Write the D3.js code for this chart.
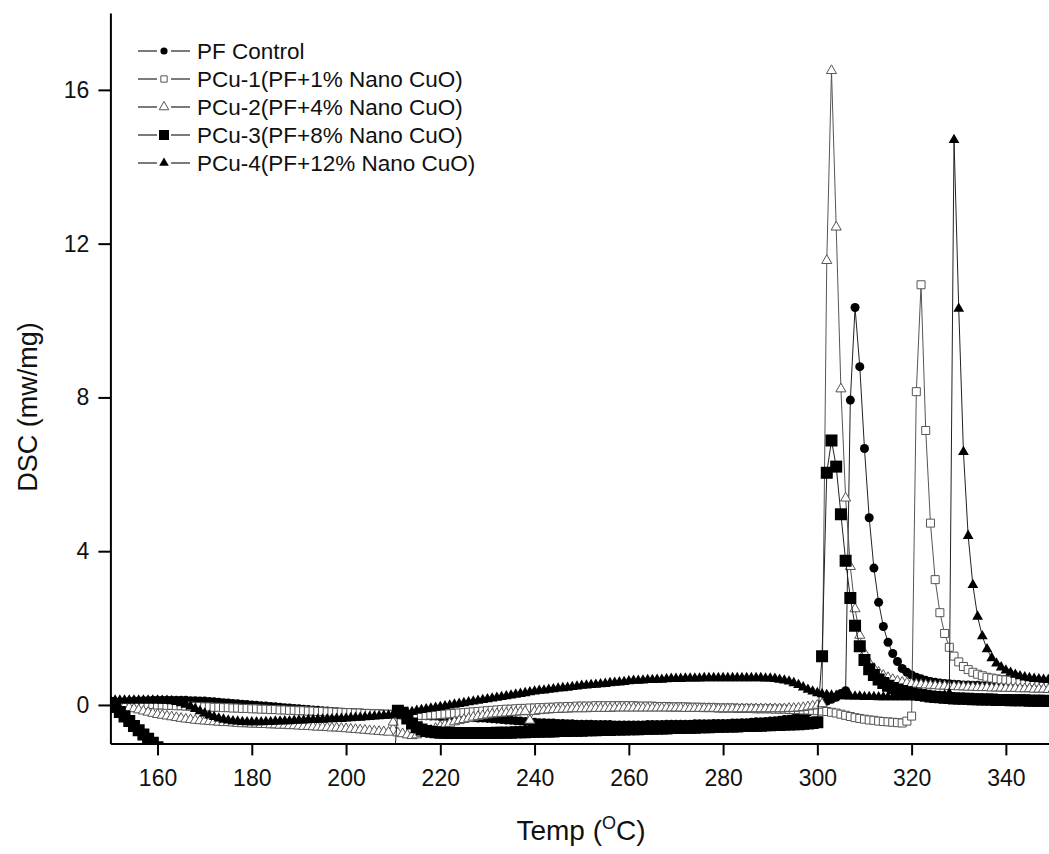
<!DOCTYPE html>
<html><head><meta charset="utf-8">
<script src="https://cdn.jsdelivr.net/npm/d3@7"></script>
<style>body{margin:0;background:#fff}svg{display:block}</style>
</head><body><svg id="chart" width="1049" height="854"></svg>
<script>
// Temperature grid (°C)
const temps = [150,151,152,153,154,155,156,157,158,159,160,161,162,163,164,165,166,167,168,169,
170,171,172,173,174,175,176,177,178,179,180,181,182,183,184,185,186,187,188,189,
190,191,192,193,194,195,196,197,198,199,200,201,202,203,204,205,206,207,208,209,
210,211,212,213,214,215,216,217,218,219,220,221,222,223,224,225,226,227,228,229,
230,231,232,233,234,235,236,237,238,239,240,241,242,243,244,245,246,247,248,249,
250,251,252,253,254,255,256,257,258,259,260,261,262,263,264,265,266,267,268,269,
270,271,272,273,274,275,276,277,278,279,280,281,282,283,284,285,286,287,288,289,
290,291,292,293,294,295,296,297,298,299,300,301,302,303,304,305,306,307,308,309,
310,311,312,313,314,315,316,317,318,319,320,321,322,323,324,325,326,327,328,329,
330,331,332,333,334,335,336,337,338,339,340,341,342,343,344,345,346,347,348,349,350];

const pfControl = [
0.05,0.06,0.07,0.08,0.09,0.10,0.10,0.11,0.11,0.12,
0.12,0.12,0.12,0.12,0.12,0.12,0.12,0.11,0.11,0.10,
0.10,0.09,0.08,0.07,0.06,0.05,0.04,0.03,0.02,0.01,
0.00,-0.01,-0.02,-0.03,-0.04,-0.05,-0.06,-0.07,-0.08,-0.09,
-0.10,-0.11,-0.12,-0.13,-0.14,-0.15,-0.16,-0.17,-0.18,-0.19,
-0.20,-0.20,-0.21,-0.21,-0.22,-0.22,-0.23,-0.23,-0.24,-0.24,
-0.25,-0.25,-0.26,-0.26,-0.27,-0.27,-0.28,-0.28,-0.29,-0.29,
-0.30,-0.30,-0.31,-0.31,-0.32,-0.32,-0.33,-0.33,-0.34,-0.34,
-0.35,-0.36,-0.37,-0.38,-0.39,-0.40,-0.41,-0.42,-0.43,-0.44,
-0.45,-0.46,-0.46,-0.47,-0.47,-0.48,-0.48,-0.49,-0.49,-0.50,
-0.50,-0.50,-0.50,-0.51,-0.51,-0.51,-0.51,-0.52,-0.52,-0.52,
-0.52,-0.52,-0.52,-0.52,-0.51,-0.51,-0.51,-0.51,-0.50,-0.50,
-0.50,-0.50,-0.50,-0.50,-0.49,-0.49,-0.49,-0.49,-0.48,-0.48,
-0.48,-0.48,-0.47,-0.47,-0.46,-0.46,-0.45,-0.44,-0.44,-0.43,
-0.42,-0.41,-0.40,-0.38,-0.37,-0.35,-0.32,-0.28,-0.20,-0.12,
-0.05,0.02,0.10,0.15,0.20,0.30,0.37,7.93,10.34,8.80,
6.67,4.87,3.56,2.67,2.04,1.63,1.34,1.13,0.95,0.85,
0.78,0.72,0.68,0.64,0.61,0.59,0.57,0.56,0.55,0.54,
0.53,0.52,0.52,0.51,0.51,0.50,0.50,0.49,0.49,0.48,
0.48,0.47,0.47,0.47,0.46,0.46,0.46,0.45,0.45,0.45,0.45];

const pcu1 = [
0.05,0.05,0.04,0.04,0.03,0.03,0.02,0.02,0.01,0.01,
0.00,0.00,-0.01,-0.01,-0.02,-0.02,-0.03,-0.03,-0.04,-0.04,
-0.05,-0.05,-0.06,-0.06,-0.07,-0.07,-0.08,-0.08,-0.09,-0.09,
-0.10,-0.10,-0.11,-0.11,-0.12,-0.12,-0.13,-0.13,-0.14,-0.14,
-0.15,-0.15,-0.16,-0.16,-0.17,-0.17,-0.18,-0.18,-0.19,-0.19,
-0.20,-0.20,-0.21,-0.21,-0.22,-0.22,-0.23,-0.23,-0.24,-0.24,
-0.25,-0.25,-0.26,-0.26,-0.26,-0.27,-0.27,-0.27,-0.26,-0.26,
-0.25,-0.24,-0.23,-0.22,-0.21,-0.20,-0.19,-0.18,-0.17,-0.16,
-0.15,-0.14,-0.13,-0.12,-0.11,-0.11,-0.10,-0.09,-0.09,-0.08,
-0.08,-0.07,-0.07,-0.06,-0.06,-0.05,-0.05,-0.04,-0.04,-0.03,
-0.03,-0.03,-0.03,-0.02,-0.02,-0.02,-0.02,-0.02,-0.02,-0.02,
-0.02,-0.02,-0.03,-0.03,-0.03,-0.03,-0.04,-0.04,-0.04,-0.05,
-0.05,-0.05,-0.05,-0.06,-0.06,-0.06,-0.07,-0.07,-0.07,-0.08,
-0.08,-0.08,-0.08,-0.09,-0.09,-0.09,-0.09,-0.10,-0.10,-0.10,
-0.10,-0.11,-0.11,-0.11,-0.12,-0.12,-0.12,-0.13,-0.13,-0.14,
-0.15,-0.16,-0.17,-0.19,-0.21,-0.24,-0.27,-0.30,-0.33,-0.35,
-0.37,-0.39,-0.40,-0.42,-0.43,-0.44,-0.45,-0.46,-0.47,-0.42,
-0.29,8.15,10.93,7.14,4.73,3.26,2.40,1.86,1.50,1.27,
1.12,1.00,0.92,0.85,0.80,0.76,0.72,0.70,0.68,0.66,
0.65,0.64,0.63,0.62,0.61,0.60,0.60,0.59,0.59,0.58,0.58];

const pcu2 = [
0.05,0.03,0.00,-0.03,-0.07,-0.10,-0.13,-0.16,-0.19,-0.22,
-0.25,-0.27,-0.29,-0.31,-0.33,-0.35,-0.37,-0.38,-0.40,-0.41,
-0.42,-0.43,-0.44,-0.45,-0.46,-0.46,-0.47,-0.48,-0.49,-0.49,
-0.50,-0.50,-0.51,-0.51,-0.52,-0.52,-0.53,-0.53,-0.54,-0.54,
-0.55,-0.56,-0.56,-0.57,-0.58,-0.58,-0.59,-0.60,-0.60,-0.61,
-0.62,-0.63,-0.64,-0.65,-0.66,-0.67,-0.68,-0.69,-0.70,-0.71,
-0.45,-0.73,-0.75,-0.78,-0.80,-0.78,-0.74,-0.70,-0.66,-0.61,
-0.56,-0.52,-0.48,-0.44,-0.41,-0.38,-0.35,-0.32,-0.30,-0.28,
-0.26,-0.24,-0.23,-0.22,-0.21,-0.20,-0.19,-0.18,-0.17,-0.40,
-0.17,-0.15,-0.14,-0.13,-0.12,-0.12,-0.11,-0.11,-0.10,-0.10,
-0.10,-0.10,-0.09,-0.09,-0.09,-0.09,-0.09,-0.08,-0.08,-0.08,
-0.08,-0.08,-0.08,-0.08,-0.08,-0.08,-0.08,-0.08,-0.08,-0.08,
-0.08,-0.08,-0.09,-0.09,-0.09,-0.09,-0.09,-0.09,-0.09,-0.10,
-0.10,-0.10,-0.10,-0.10,-0.10,-0.10,-0.10,-0.10,-0.10,-0.10,
-0.10,-0.10,-0.10,-0.10,-0.09,-0.09,-0.08,-0.07,-0.05,-0.03,
-0.01,0.03,11.56,16.50,12.43,8.22,5.38,3.60,2.50,1.81,
1.35,1.10,0.95,0.85,0.77,0.71,0.66,0.62,0.59,0.57,
0.55,0.54,0.53,0.52,0.51,0.50,0.49,0.49,0.48,0.48,
0.47,0.47,0.46,0.46,0.45,0.45,0.45,0.44,0.44,0.44,
0.43,0.43,0.43,0.42,0.42,0.42,0.41,0.41,0.41,0.40,0.40];

// null = below the plotted range (off chart)
const pcu3 = [
0.05,-0.05,-0.18,-0.30,-0.42,-0.55,-0.66,-0.77,-0.88,-0.98,
-1.10,-1.25,-1.45,null,null,null,null,null,null,null,
null,null,null,null,null,null,null,null,null,null,
null,null,null,null,null,null,null,null,null,null,
null,null,null,null,null,null,null,null,null,null,
null,null,null,null,null,null,null,null,null,null,
-1.80,-0.15,-0.20,-0.35,-0.48,-0.58,-0.64,-0.68,-0.70,-0.71,
-0.72,-0.72,-0.73,-0.73,-0.73,-0.73,-0.73,-0.73,-0.73,-0.73,
-0.73,-0.73,-0.72,-0.72,-0.72,-0.72,-0.71,-0.71,-0.71,-0.70,
-0.70,-0.70,-0.69,-0.69,-0.69,-0.68,-0.68,-0.68,-0.67,-0.67,
-0.67,-0.66,-0.66,-0.66,-0.65,-0.65,-0.65,-0.64,-0.64,-0.64,
-0.63,-0.63,-0.63,-0.62,-0.62,-0.62,-0.61,-0.61,-0.61,-0.60,
-0.60,-0.60,-0.59,-0.59,-0.59,-0.58,-0.58,-0.58,-0.57,-0.57,
-0.57,-0.56,-0.56,-0.56,-0.55,-0.55,-0.55,-0.54,-0.54,-0.53,
-0.53,-0.52,-0.52,-0.51,-0.51,-0.50,-0.50,-0.49,-0.48,-0.47,
-0.45,1.27,6.04,6.88,6.20,4.96,3.75,2.78,2.06,1.53,
1.17,0.93,0.78,0.66,0.57,0.50,0.44,0.40,0.36,0.33,
0.30,0.28,0.26,0.24,0.22,0.21,0.20,0.19,0.18,0.17,
0.17,0.16,0.16,0.15,0.15,0.14,0.14,0.14,0.13,0.13,
0.13,0.12,0.12,0.12,0.12,0.11,0.11,0.11,0.11,0.10,0.10];

const pcu4 = [
0.12,0.12,0.12,0.12,0.12,0.12,0.12,0.12,0.12,0.12,
0.12,0.11,0.11,0.10,0.08,0.05,0.01,-0.04,-0.10,-0.16,
-0.22,-0.27,-0.31,-0.35,-0.38,-0.40,-0.42,-0.43,-0.44,-0.45,
-0.45,-0.45,-0.45,-0.44,-0.44,-0.43,-0.43,-0.42,-0.42,-0.41,
-0.40,-0.40,-0.39,-0.39,-0.38,-0.38,-0.37,-0.37,-0.36,-0.36,
-0.35,-0.34,-0.33,-0.33,-0.32,-0.31,-0.30,-0.29,-0.28,-0.27,
-0.25,-0.24,-0.22,-0.20,-0.18,-0.15,-0.13,-0.11,-0.09,-0.07,
-0.05,-0.03,-0.01,0.01,0.03,0.05,0.07,0.09,0.11,0.13,
0.15,0.17,0.19,0.21,0.23,0.25,0.27,0.29,0.31,0.33,
0.35,0.37,0.38,0.40,0.41,0.43,0.44,0.45,0.47,0.48,
0.50,0.51,0.52,0.53,0.54,0.55,0.57,0.58,0.59,0.60,
0.62,0.63,0.63,0.64,0.65,0.65,0.66,0.66,0.67,0.68,
0.68,0.68,0.69,0.69,0.69,0.69,0.70,0.70,0.70,0.70,
0.70,0.70,0.70,0.70,0.70,0.70,0.70,0.70,0.70,0.69,
0.69,0.68,0.66,0.64,0.61,0.57,0.52,0.46,0.40,0.35,
0.31,0.28,0.26,0.25,0.24,0.23,0.23,0.22,0.22,0.22,
0.21,0.21,0.21,0.20,0.20,0.20,0.20,0.20,0.20,0.20,
0.20,0.20,0.20,0.21,0.21,0.22,0.23,0.25,0.30,14.70,
10.31,6.58,4.40,3.12,2.30,1.79,1.45,1.22,1.08,0.98,
0.90,0.84,0.79,0.75,0.72,0.70,0.68,0.67,0.66,0.65,0.64];

const seriesNames = ["PF Control","PCu-1(PF+1% Nano CuO)","PCu-2(PF+4% Nano CuO)","PCu-3(PF+8% Nano CuO)","PCu-4(PF+12% Nano CuO)"];
const xTicks = [160,180,200,220,240,260,280,300,320,340];
const yTicks = [0,4,8,12,16];

const seriesData = [pfControl, pcu1, pcu2, pcu3, pcu4];
const symbolTypes = [d3.symbolCircle, d3.symbolSquare, d3.symbolTriangle, d3.symbolSquare, d3.symbolTriangle];
const symbolSizes = [64, 64, 44, 144, 50];
const symbolFilled = [true, false, false, true, true];

const svg = d3.select("#chart");
const FONT = "'Liberation Sans', Arial, Helvetica, sans-serif";
const x = d3.scaleLinear().domain([150, 350]).range([110.4, 1053]);
const y = d3.scaleLinear().domain([-1, 18]).range([743.4, 13]);

svg.append("defs").append("clipPath").attr("id", "plotclip")
  .append("rect").attr("x", 110).attr("y", 0).attr("width", 960).attr("height", 743.4 - 0);

const plot = svg.append("g").attr("clip-path", "url(#plotclip)");

const line = d3.line()
  .defined(d => d.v !== null)
  .x(d => x(d.t)).y(d => y(d.v));

seriesData.forEach((vals, si) => {
  const pts = temps.map((t, i) => ({t: t, v: vals[i]}));
  const g = plot.append("g");
  g.append("path").datum(pts).attr("d", line)
    .attr("fill", "none").attr("stroke", symbolFilled[si] ? "#222" : "#555").attr("stroke-width", 1);
  const sym = d3.symbol().type(symbolTypes[si]).size(symbolSizes[si]);
  g.selectAll("path.m").data(pts.filter(d => d.v !== null)).join("path")
    .attr("class", "m")
    .attr("d", sym)
    .attr("transform", d => `translate(${x(d.t)},${y(d.v)})`)
    .attr("fill", symbolFilled[si] ? "#000" : "#fff")
    .attr("stroke", symbolFilled[si] ? "none" : "#555")
    .attr("stroke-width", 1);
});

// Axes
const xAxis = svg.append("g").attr("transform", `translate(0,${y(-1)})`)
  .call(d3.axisBottom(x).tickValues(xTicks).tickSize(12).tickSizeOuter(0).tickPadding(14).tickFormat(d3.format("d")));
const yAxis = svg.append("g").attr("transform", `translate(${x(150)},0)`)
  .call(d3.axisLeft(y).tickValues(yTicks).tickSize(12).tickSizeOuter(0).tickPadding(9).tickFormat(d3.format("d")));
[xAxis, yAxis].forEach(a => {
  a.select(".domain").attr("stroke", "#000").attr("stroke-width", 2);
  a.selectAll(".tick line").attr("stroke", "#000").attr("stroke-width", 2);
  a.selectAll(".tick text").attr("font-family", FONT).attr("font-size", 23).attr("fill", "#111");
});

// Axis titles
svg.append("text")
  .attr("transform", "translate(37,407) rotate(-90)")
  .attr("text-anchor", "middle")
  .attr("font-family", FONT).attr("font-size", 27).attr("fill", "#111")
  .text("DSC (mw/mg)");

const xt = svg.append("text")
  .attr("x", 581).attr("y", 840)
  .attr("text-anchor", "middle")
  .attr("font-family", FONT).attr("font-size", 28).attr("fill", "#111");
xt.append("tspan").text("Temp (");
xt.append("tspan").attr("font-size", 18).attr("dy", -11).text("O");
xt.append("tspan").attr("dy", 11).text("C)");

// Legend
const legend = svg.append("g");
seriesNames.forEach((name, i) => {
  const cy = 51 + i * 28;
  const g = legend.append("g");
  g.append("line").attr("x1", 138).attr("x2", 157).attr("y1", cy).attr("y2", cy).attr("stroke", "#222").attr("stroke-width", 1.2);
  g.append("line").attr("x1", 171).attr("x2", 190).attr("y1", cy).attr("y2", cy).attr("stroke", "#222").attr("stroke-width", 1.2);
  g.append("path")
    .attr("d", d3.symbol().type(symbolTypes[i]).size(i === 3 ? 100 : 40)())
    .attr("transform", `translate(164,${cy})`)
    .attr("fill", symbolFilled[i] ? "#000" : "#fff")
    .attr("stroke", symbolFilled[i] ? "none" : "#555").attr("stroke-width", 1);
  g.append("text").attr("x", 197).attr("y", cy + 8)
    .attr("font-family", FONT).attr("font-size", 22.5).attr("fill", "#111")
    .text(name);
});
</script>
</body></html>
